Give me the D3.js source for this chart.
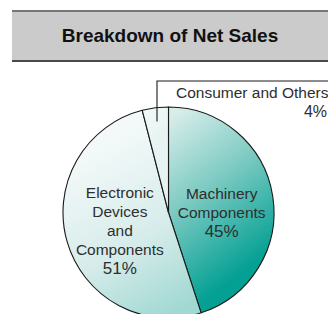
<!DOCTYPE html>
<html>
<head>
<meta charset="utf-8">
<script src="https://cdn.jsdelivr.net/npm/d3@7"></script>
<style>
  html, body { margin: 0; padding: 0; background: #fff; }
  svg { display: block; }
</style>
</head>
<body>
<svg id="chart" width="328" height="314"></svg>
<script>
// ---- data ----
const title = "Breakdown of Net Sales";
const categories = ["Machinery Components", "Electronic Devices and Components", "Consumer and Others"];
const values = [45, 51, 4];
const labelLines = [
  ["Machinery", "Components"],
  ["Electronic", "Devices", "and", "Components"],
  ["Consumer and Others"]
];

// ---- layout ----
const W = 328, H = 314;
const cx = 168.5, cy = 212.5, R = 105.5;
const font = "'Liberation Sans', Arial, Helvetica, sans-serif";
const textColor = "#2e2e2e";

const svg = d3.select("#chart");
const defs = svg.append("defs");

// gradients (coordinates relative to pie centre)
function grad(id, x1, y1, x2, y2, stops) {
  const g = defs.append("linearGradient").attr("id", id)
    .attr("gradientUnits", "userSpaceOnUse")
    .attr("x1", x1).attr("y1", y1).attr("x2", x2).attr("y2", y2);
  stops.forEach(s => g.append("stop").attr("offset", s[0]).attr("stop-color", s[1]));
}
grad("g0", 0, -95, 100, 40, [[0, "#d8edea"], [0.45, "#80ccc4"], [1, "#05a094"]]);
grad("g1", -80, -60, 10, 100, [[0, "#f3f9f9"], [0.55, "#d6ecea"], [1, "#a0d8d2"]]);
grad("g2", -30, -105, 0, -80, [[0, "#f4faf9"], [1, "#e6f3f2"]]);
const fills = ["url(#g0)", "url(#g1)", "url(#g2)"];

// ---- header band ----
svg.append("rect").attr("x", 12).attr("y", 11).attr("width", W - 12).attr("height", 50)
  .attr("fill", "#cbcbcb");
svg.append("line").attr("x1", 12).attr("x2", W).attr("y1", 11).attr("y2", 11)
  .attr("stroke", "#777").attr("stroke-width", 2);
svg.append("line").attr("x1", 12).attr("x2", W).attr("y1", 61).attr("y2", 61)
  .attr("stroke", "#4a4a4a").attr("stroke-width", 2);
svg.append("text").attr("x", 170).attr("y", 42).attr("text-anchor", "middle")
  .attr("font-family", font).attr("font-weight", "bold").attr("font-size", 19)
  .attr("fill", "#111").text(title);

// ---- pie ----
const pie = d3.pie().sort(null).value(d => d).startAngle(0).endAngle(2 * Math.PI);
const arcs = pie(values);
const arc = d3.arc().innerRadius(0).outerRadius(R);
const g = svg.append("g").attr("transform", `translate(${cx},${cy})`);

g.selectAll("path.slice").data(arcs).join("path")
  .attr("class", "slice")
  .attr("d", arc)
  .attr("fill", (d, i) => fills[i])
  .attr("stroke", "#1a1a1a")
  .attr("stroke-width", 1.1)
  .attr("stroke-linejoin", "round");

// ---- inside labels ----
const labelArc = d3.arc().innerRadius(R * 0.52).outerRadius(R * 0.52);
const lineH = 19;
const labelTweak = [[-1, 9], [4, 3]];
[0, 1].forEach(i => {
  const [x, y] = labelArc.centroid(arcs[i]);
  const lines = labelLines[i].concat([values[i] + "%"]);
  const x0 = x + labelTweak[i][0];
  const top = y + labelTweak[i][1] - (lines.length - 1) * lineH / 2 + 5;
  const t = g.append("text").attr("text-anchor", "middle")
    .attr("font-family", font).attr("font-size", 15.5).attr("fill", textColor);
  lines.forEach((s, k) => {
    t.append("tspan").attr("x", x0).attr("y", top + k * lineH)
      .attr("font-size", k === lines.length - 1 ? 17 : 15.5).text(s);
  });
});

// ---- outside label with leader (Consumer and Others) ----
const small = arcs[2];
const mid = (small.startAngle + small.endAngle) / 2;
const lr = R * 0.87;
const lx = Math.sin(mid) * lr, ly = -Math.cos(mid) * lr;
const topY = -cy + 81;
g.append("path")
  .attr("d", `M${lx},${ly}V${topY}H${W - cx}`)
  .attr("fill", "none").attr("stroke", "#1a1a1a").attr("stroke-width", 1.1);
g.append("text").attr("x", lx + 19).attr("y", topY + 17)
  .attr("font-family", font).attr("font-size", 15.5).attr("fill", textColor)
  .text(labelLines[2][0]);
g.append("text").attr("x", W - cx - 1).attr("y", topY + 36).attr("text-anchor", "end")
  .attr("font-family", font).attr("font-size", 16).attr("fill", textColor)
  .text(values[2] + "%");
</script>
</body>
</html>
